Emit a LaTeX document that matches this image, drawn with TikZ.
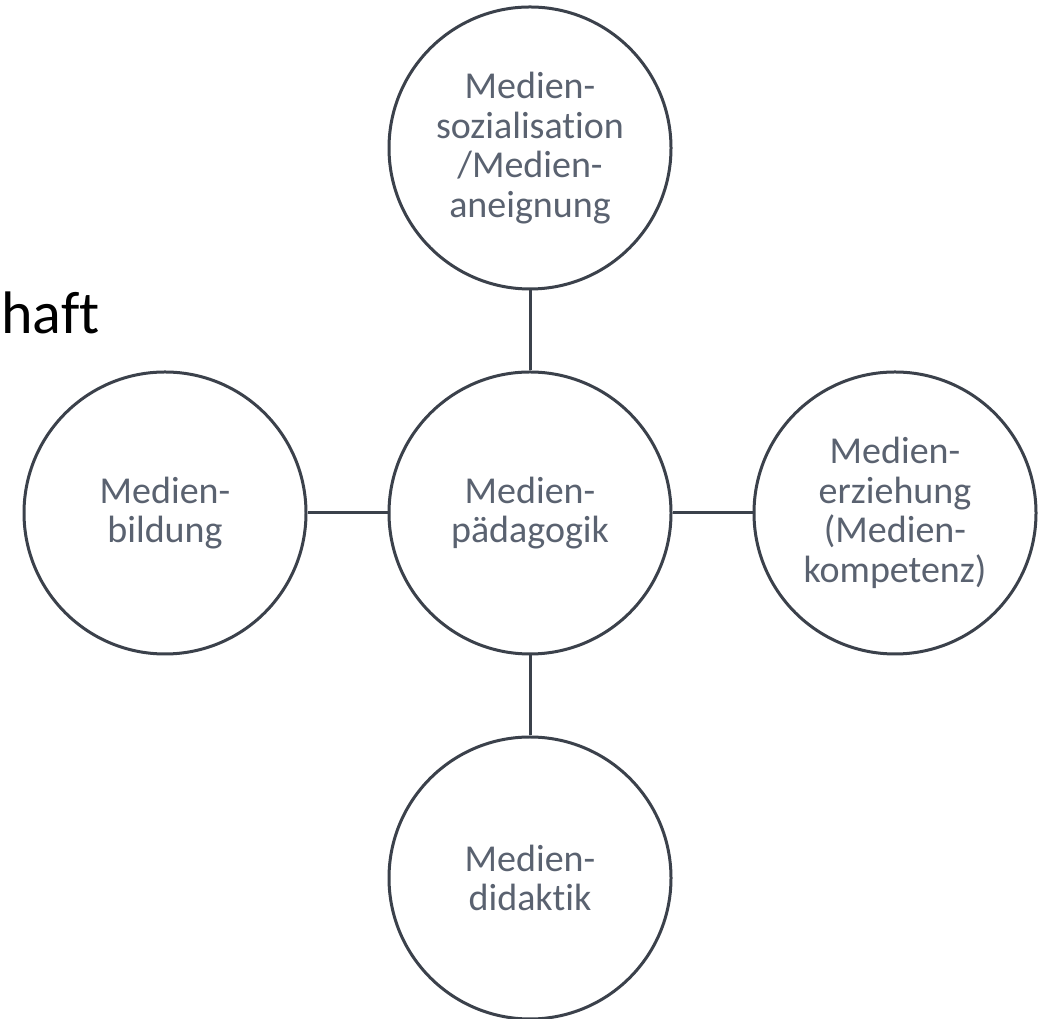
\documentclass[tikz,border=0pt]{standalone}
\usepackage{fontspec}
\setmainfont{Carlito}[Ligatures={NoCommon,NoContextual}]
\definecolor{ringcol}{HTML}{3B414B}
\definecolor{txtcol}{HTML}{5A6270}
\tikzset{
  topic/.style={circle, draw=ringcol, line width=3pt, minimum size=282pt, inner sep=0pt,
    align=center, text=txtcol, font=\fontsize{38}{39.5}\selectfont, fill=white},
  link/.style={draw=ringcol, line width=3pt}
}
\begin{document}
\begin{tikzpicture}[x=1pt,y=1pt]
\useasboundingbox (0,0) rectangle (1046,1019);
\fill[white] (0,0) rectangle (1046,1019);
\node[anchor=base west, inner sep=0pt, font=\fontsize{60}{60}\selectfont] (haft) at (1,685) {haft};
\node[topic] (c) at (530,506) {Medien-\\pädagogik};
\node[topic] (t) at (530,871) {Medien-\\sozialisation\\/Medien-\\aneignung};
\node[topic] (b) at (530,141) {Medien-\\didaktik};
\node[topic] (l) at (165,506) {Medien-\\bildung};
\node[topic] (r) at (895,506) {Medien-\\erziehung\\(Medien-\\kompetenz)};
\draw[link] (t) -- (c);
\draw[link] (c) -- (b);
\draw[link] (l) -- (c);
\draw[link] (c) -- (r);
\end{tikzpicture}
\end{document}
